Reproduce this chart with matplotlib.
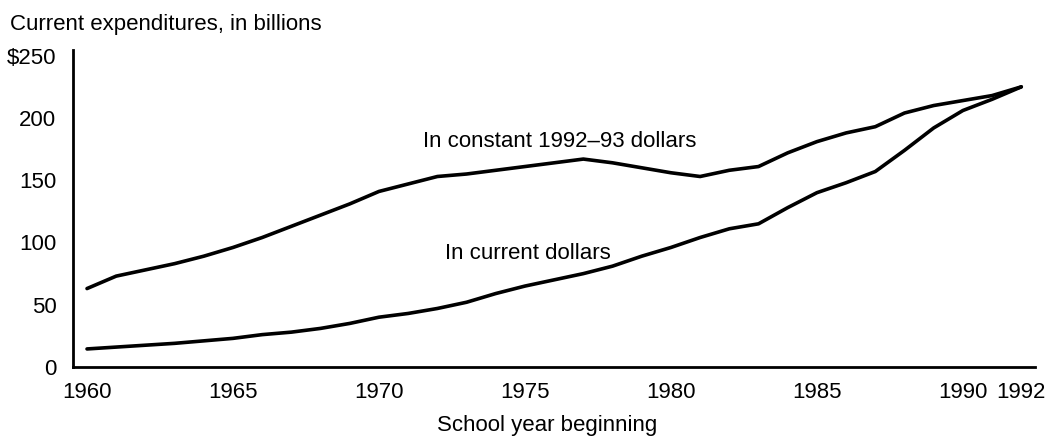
import matplotlib
matplotlib.use("Agg")
from matplotlib import pyplot as plt

# school year beginning
years = list(range(1960, 1993))

# current expenditures in billions, constant 1992-93 dollars
constant_dollars = [63, 73, 78, 83, 89, 96, 104, 113, 122, 131,
                    141, 147, 153, 155, 158, 161, 164, 167, 164, 160,
                    156, 153, 158, 161, 172, 181, 188, 193, 204, 210,
                    214, 218, 225]

# current expenditures in billions, current dollars
current_dollars = [14.5, 16, 17.5, 19, 21, 23, 26, 28, 31, 35,
                   40, 43, 47, 52, 59, 65, 70, 75, 81, 89,
                   96, 104, 111, 115, 128, 140, 148, 157, 174, 192,
                   206, 215, 225]

xticks = [1960, 1965, 1970, 1975, 1980, 1985, 1990, 1992]
yticks = [0, 50, 100, 150, 200, 250]
ytick_labels = ["0", "50", "100", "150", "200", "$250"]

plt.rcParams["font.family"] = ["Liberation Sans", "DejaVu Sans"]
fs = 16

fig = plt.figure(figsize=(10.48, 4.37), dpi=100)
ax = fig.add_axes([73 / 1048, 70 / 437, 962 / 1048, 317 / 437])

ax.plot(years, constant_dollars, color="black", linewidth=2.6, solid_capstyle="round")
ax.plot(years, current_dollars, color="black", linewidth=2.6, solid_capstyle="round")

ax.set_xlim(1959.52, 1992.47)
ax.set_ylim(0, 254.6)

ax.set_xticks(xticks)
ax.set_yticks(yticks)
ax.set_yticklabels(ytick_labels)
ax.tick_params(axis="both", length=0, labelsize=fs)
ax.tick_params(axis="x", pad=11)
ax.tick_params(axis="y", pad=12)

for side in ["top", "right"]:
    ax.spines[side].set_visible(False)
ax.spines["left"].set_linewidth(2)
ax.spines["bottom"].set_linewidth(2)

ax.text(1976.2, 181, "In constant 1992\u201393 dollars", fontsize=fs, ha="center", va="center")
ax.text(1975.1, 91, "In current dollars", fontsize=fs, ha="center", va="center")

fig.text(10 / 1048, 1 - 30 / 437, "Current expenditures, in billions", fontsize=fs, va="baseline")
fig.text(547 / 1048, 1 - 425 / 437, "School year beginning", fontsize=fs, ha="center", va="center")

plt.savefig("out.png", dpi=100)
plt.close()
